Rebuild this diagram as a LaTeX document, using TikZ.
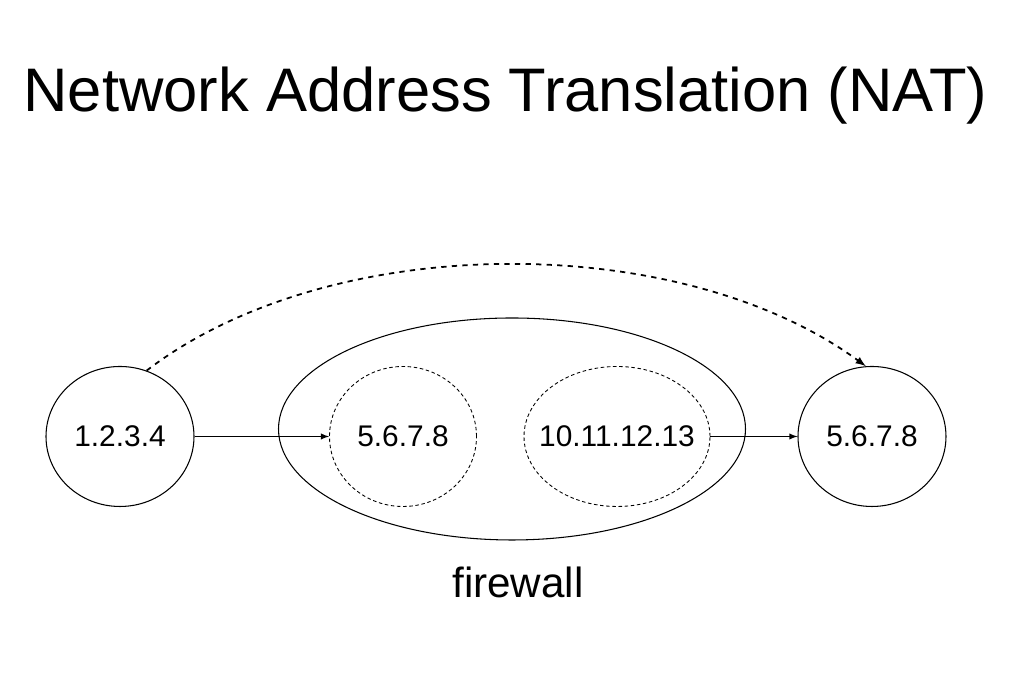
\documentclass[tikz,border=0pt]{standalone}
\usepackage{fontspec}
\setmainfont{Liberation Sans}
\usepackage{tikz}
\usetikzlibrary{shapes,arrows}

\begin{document}
\begin{tikzpicture}[
  address/.style={label={[font=\fontsize{17}{20}\selectfont]center:#1}},
  host/.style={ellipse,draw,line width=0.6pt,minimum width=2.96cm,minimum height=2.8cm,inner sep=0pt},
  inside/.style={ellipse,draw,dashed,line width=0.5pt,dash pattern=on 2pt off 1.5pt,minimum height=2.8cm,inner sep=0pt}]

\useasboundingbox (0,0) rectangle (20.22,13.58);

% title
\node (Title) [anchor=base,font=\fontsize{35}{40}\selectfont] at (10.11,11.34) {Network Address Translation (NAT)};

% the firewall with its two addresses
\node (Firewall) [ellipse,draw,line width=0.6pt,minimum width=9.34cm,minimum height=4.44cm] at (10.24,5.00) {};
\node (Outside) [inside,minimum width=2.94cm,address=5.6.7.8] at (8.06,4.85) {};
\node (Inside) [inside,minimum width=3.72cm,address=10.11.12.13] at (12.34,4.85) {};
\node (FirewallLabel) [anchor=base,font=\fontsize{24}{28}\selectfont] at (10.36,1.62) {firewall};

% the two hosts
\node (Client) [host,address=1.2.3.4] at (2.40,4.85) {};
\node (Server) [host,address=5.6.7.8] at (17.44,4.85) {};

\draw [line width=0.6pt,-latex] (Client) -- (Outside);
\draw [line width=0.6pt,-latex] (Inside) -- (Server);

\draw [line width=1pt,dashed,-latex] (Client.68) .. controls (6.6,8.98) and (13.6,8.98) .. (Server.95);% what the client thinks
\end{tikzpicture}
\end{document}
